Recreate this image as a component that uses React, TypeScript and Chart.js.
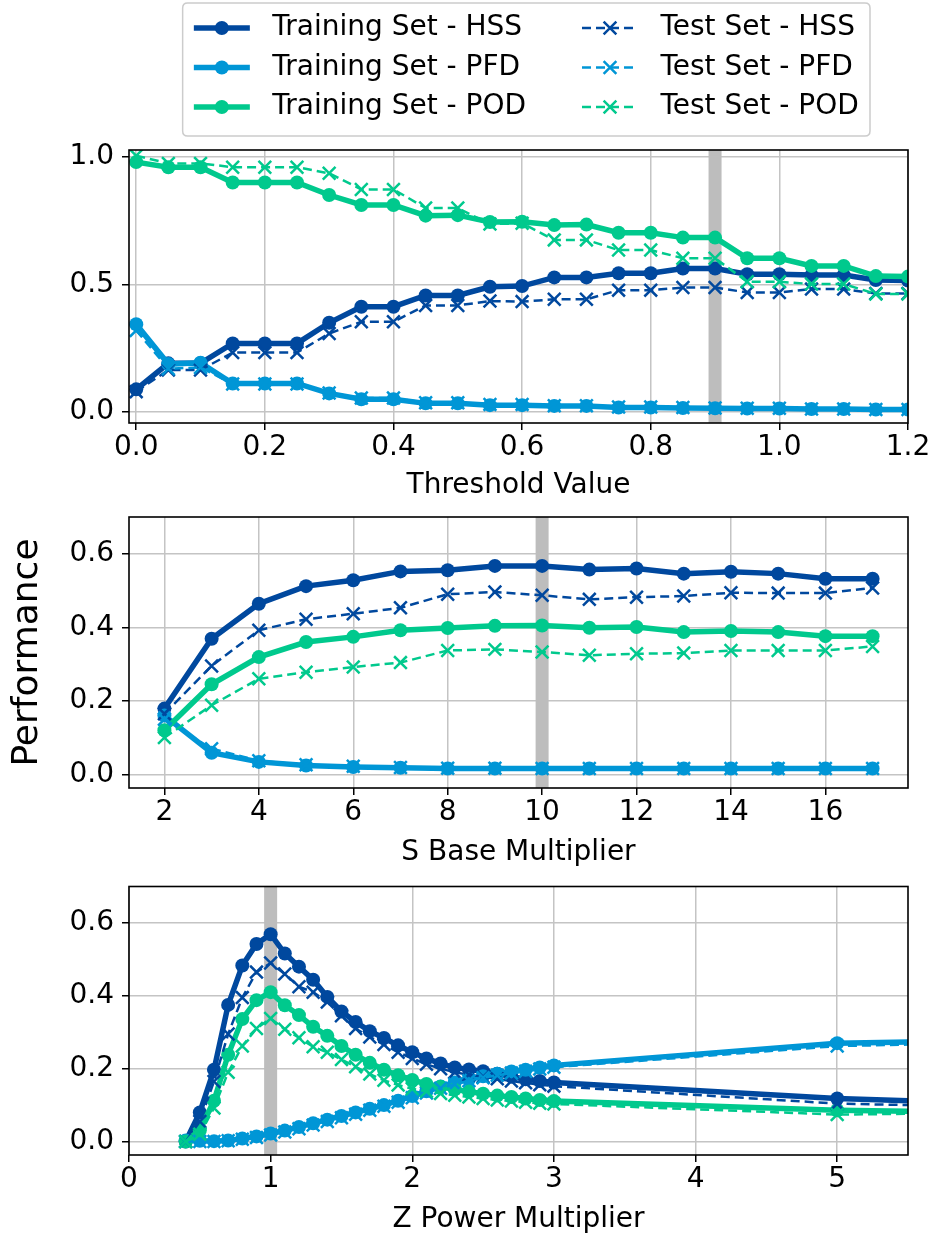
import { useEffect, useRef } from 'react';
import { Chart, registerables } from 'chart.js';
Chart.register(...registerables);

const FONT = 'DejaVu Sans';
const C_HSS = '#00489e';
const C_PFD = '#0096d6';
const C_POD = '#00c98d';
const GRID = '#c4c4c4';
const BAND = '#bdbdbd';

const SERIES_LABELS = [
  'Training Set - HSS', 'Training Set - PFD', 'Training Set - POD',
  'Test Set - HSS', 'Test Set - PFD', 'Test Set - POD',
];

// ---- Panel 1: Threshold Value ----
const THRESH_X = [0, 0.05, 0.1, 0.15, 0.2, 0.25, 0.3, 0.35, 0.4, 0.45, 0.5, 0.55, 0.6, 0.65, 0.7, 0.75, 0.8, 0.85, 0.9, 0.95, 1.0, 1.05, 1.1, 1.15, 1.2];
const THRESH_TRAIN_HSS = [0.089, 0.191, 0.191, 0.269, 0.269, 0.269, 0.35, 0.413, 0.413, 0.457, 0.457, 0.491, 0.494, 0.528, 0.528, 0.544, 0.544, 0.563, 0.563, 0.54, 0.54, 0.537, 0.537, 0.518, 0.516];
const THRESH_TRAIN_PFD = [0.344, 0.188, 0.193, 0.112, 0.112, 0.112, 0.073, 0.05, 0.05, 0.034, 0.034, 0.027, 0.027, 0.024, 0.024, 0.018, 0.018, 0.016, 0.015, 0.014, 0.014, 0.012, 0.012, 0.01, 0.01];
const THRESH_TRAIN_POD = [0.98, 0.96, 0.96, 0.9, 0.9, 0.9, 0.851, 0.812, 0.812, 0.77, 0.772, 0.745, 0.746, 0.733, 0.735, 0.703, 0.703, 0.684, 0.684, 0.603, 0.603, 0.573, 0.573, 0.533, 0.531];
const THRESH_TEST_HSS = [0.08, 0.165, 0.165, 0.233, 0.233, 0.233, 0.308, 0.354, 0.354, 0.418, 0.418, 0.435, 0.433, 0.442, 0.442, 0.478, 0.478, 0.488, 0.488, 0.469, 0.469, 0.482, 0.482, 0.465, 0.465];
const THRESH_TEST_PFD = [0.32, 0.17, 0.175, 0.11, 0.11, 0.11, 0.075, 0.055, 0.055, 0.036, 0.036, 0.03, 0.03, 0.025, 0.025, 0.02, 0.02, 0.018, 0.016, 0.015, 0.015, 0.012, 0.012, 0.01, 0.01];
const THRESH_TEST_POD = [1.005, 0.975, 0.975, 0.96, 0.96, 0.96, 0.936, 0.873, 0.873, 0.8, 0.8, 0.737, 0.74, 0.675, 0.675, 0.635, 0.635, 0.603, 0.603, 0.511, 0.511, 0.502, 0.502, 0.463, 0.463];
const THRESH_X_TICKS = [0, 0.2, 0.4, 0.6, 0.8, 1.0, 1.2];
const THRESH_Y_TICKS = [0, 0.5, 1.0];
const THRESH_BEST = 0.9;

// ---- Panel 2: S Base Multiplier ----
const SBASE_X = [2, 3, 4, 5, 6, 7, 8, 9, 10, 11, 12, 13, 14, 15, 16, 17];
const SBASE_TRAIN_HSS = [0.179, 0.369, 0.464, 0.512, 0.528, 0.552, 0.555, 0.567, 0.567, 0.557, 0.56, 0.546, 0.551, 0.546, 0.532, 0.532];
const SBASE_TRAIN_PFD = [0.16, 0.059, 0.034, 0.024, 0.02, 0.018, 0.016, 0.016, 0.016, 0.016, 0.016, 0.016, 0.016, 0.016, 0.016, 0.016];
const SBASE_TRAIN_POD = [0.12, 0.245, 0.319, 0.36, 0.374, 0.392, 0.398, 0.404, 0.405, 0.399, 0.401, 0.387, 0.39, 0.387, 0.376, 0.376];
const SBASE_TEST_HSS = [0.165, 0.295, 0.392, 0.422, 0.437, 0.453, 0.49, 0.496, 0.487, 0.476, 0.482, 0.485, 0.494, 0.493, 0.493, 0.507];
const SBASE_TEST_PFD = [0.15, 0.07, 0.037, 0.026, 0.022, 0.019, 0.017, 0.017, 0.016, 0.016, 0.016, 0.016, 0.016, 0.016, 0.016, 0.016];
const SBASE_TEST_POD = [0.1, 0.188, 0.26, 0.278, 0.292, 0.304, 0.337, 0.34, 0.333, 0.324, 0.328, 0.33, 0.337, 0.337, 0.337, 0.348];
const SBASE_X_TICKS = [2, 4, 6, 8, 10, 12, 14, 16];
const SBASE_BEST = 10;

// ---- Panel 3: Z Power Multiplier ----
const ZPOW_X = [0.4, 0.5, 0.6, 0.7, 0.8, 0.9, 1.0, 1.1, 1.2, 1.3, 1.4, 1.5, 1.6, 1.7, 1.8, 1.9, 2.0, 2.1, 2.2, 2.3, 2.4, 2.5, 2.6, 2.7, 2.8, 2.9, 3.0, 5.0, 6.0];
const ZPOW_TRAIN_HSS = [0.0, 0.08, 0.197, 0.375, 0.483, 0.542, 0.569, 0.516, 0.48, 0.444, 0.397, 0.357, 0.328, 0.303, 0.284, 0.264, 0.245, 0.228, 0.214, 0.203, 0.198, 0.193, 0.186, 0.178, 0.171, 0.166, 0.162, 0.118, 0.106];
const ZPOW_TRAIN_PFD = [0.003, 0.002, 0.001, 0.003, 0.008, 0.014, 0.022, 0.03, 0.04, 0.05, 0.06, 0.07, 0.08, 0.09, 0.1, 0.112, 0.125, 0.138, 0.151, 0.162, 0.171, 0.179, 0.186, 0.192, 0.197, 0.203, 0.209, 0.27, 0.276];
const ZPOW_TRAIN_POD = [0.0, 0.031, 0.112, 0.238, 0.336, 0.388, 0.41, 0.374, 0.347, 0.315, 0.29, 0.262, 0.238, 0.216, 0.197, 0.182, 0.169, 0.158, 0.15, 0.143, 0.137, 0.131, 0.126, 0.122, 0.118, 0.114, 0.111, 0.086, 0.08];
const ZPOW_TEST_HSS = [0.0, 0.055, 0.165, 0.295, 0.395, 0.465, 0.49, 0.46, 0.425, 0.41, 0.383, 0.345, 0.31, 0.287, 0.266, 0.245, 0.228, 0.212, 0.2, 0.19, 0.183, 0.178, 0.172, 0.166, 0.161, 0.156, 0.152, 0.104, 0.096];
const ZPOW_TEST_PFD = [0.0, 0.0, 0.0, 0.002, 0.006, 0.011, 0.018, 0.026, 0.035, 0.045, 0.055, 0.065, 0.075, 0.086, 0.097, 0.108, 0.12, 0.133, 0.146, 0.157, 0.167, 0.175, 0.182, 0.188, 0.193, 0.199, 0.204, 0.262, 0.27];
const ZPOW_TEST_POD = [0.0, 0.02, 0.092, 0.19, 0.262, 0.31, 0.338, 0.308, 0.285, 0.26, 0.245, 0.225, 0.205, 0.185, 0.168, 0.155, 0.145, 0.138, 0.132, 0.127, 0.122, 0.118, 0.114, 0.111, 0.108, 0.105, 0.103, 0.074, 0.078];
const ZPOW_X_TICKS = [0, 1, 2, 3, 4, 5];
const ZPOW_BEST = 1;

const PERF_Y_TICKS = [0, 0.2, 0.4, 0.6];

const COLORS = [C_HSS, C_PFD, C_POD];

function styleFor(i: number) {
  const test = i >= 3;
  const color = COLORS[i % 3];
  return {
    color,
    test,
    lineWidth: test ? 2.5 : 5.5,
    dash: test ? [9, 5] : [],
    pointStyle: test ? 'crossRot' : 'circle',
    radius: test ? 9 : 7,
    pointBorderWidth: test ? 2.5 : 0,
  };
}

function makeDatasets(xs: number[], series: number[][]) {
  return series.map((ys, i) => {
    const s = styleFor(i);
    return {
      label: SERIES_LABELS[i],
      data: xs.map((x, j) => ({ x, y: ys[j] })),
      borderColor: s.color,
      backgroundColor: s.color,
      borderWidth: s.lineWidth,
      borderDash: s.dash,
      pointStyle: s.pointStyle,
      pointRadius: s.radius,
      pointHoverRadius: s.radius,
      pointBorderWidth: s.pointBorderWidth,
      pointBackgroundColor: s.color,
      pointBorderColor: s.color,
      order: 6 - i,
      clip: 0,
      tension: 0,
      fill: false,
    };
  });
}

const bandPlugin = {
  id: 'bestBand',
  beforeDatasetsDraw(chart: any, _a: any, opts: any) {
    if (opts == null || opts.value == null) return;
    const { ctx, chartArea } = chart;
    const px = chart.scales.x.getPixelForValue(opts.value);
    ctx.save();
    ctx.fillStyle = BAND;
    ctx.fillRect(px - 6.5, chartArea.top, 13, chartArea.bottom - chartArea.top);
    ctx.restore();
  },
};

const framePlugin = {
  id: 'frame',
  afterDatasetsDraw(chart: any) {
    const { ctx, chartArea } = chart;
    ctx.save();
    ctx.strokeStyle = '#000';
    ctx.lineWidth = 1.6;
    ctx.strokeRect(chartArea.left, chartArea.top, chartArea.right - chartArea.left, chartArea.bottom - chartArea.top);
    ctx.restore();
  },
};

const legendPlugin = {
  id: 'mplLegend',
  afterDraw(chart: any) {
    const ctx = chart.ctx;
    const fs = 28;
    ctx.save();
    ctx.font = `${fs}px "${FONT}"`;
    const bp = 0.4 * fs, hl = 2 * fs, htp = 0.8 * fs, cs = 2 * fs;
    const col1W = Math.max(...SERIES_LABELS.slice(0, 3).map((t) => ctx.measureText(t).width));
    const col2W = Math.max(...SERIES_LABELS.slice(3).map((t) => ctx.measureText(t).width));
    const right = 870;
    const totalW = 2 * bp + hl + htp + col1W + cs + hl + htp + col2W;
    const left = right - totalW;
    const top = 3, bottom = 136;
    const r = 5;
    ctx.beginPath();
    ctx.moveTo(left + r, top);
    ctx.lineTo(right - r, top);
    ctx.quadraticCurveTo(right, top, right, top + r);
    ctx.lineTo(right, bottom - r);
    ctx.quadraticCurveTo(right, bottom, right - r, bottom);
    ctx.lineTo(left + r, bottom);
    ctx.quadraticCurveTo(left, bottom, left, bottom - r);
    ctx.lineTo(left, top + r);
    ctx.quadraticCurveTo(left, top, left + r, top);
    ctx.closePath();
    ctx.fillStyle = 'rgba(255,255,255,0.8)';
    ctx.fill();
    ctx.strokeStyle = '#cccccc';
    ctx.lineWidth = 1.5;
    ctx.stroke();
    const rows = [28, 67.5, 107];
    for (let i = 0; i < 6; i++) {
      const s = styleFor(i);
      const col = i < 3 ? 0 : 1;
      const y = rows[i % 3];
      const x0 = left + bp + (col ? hl + htp + col1W + cs : 0);
      ctx.save();
      ctx.strokeStyle = s.color;
      ctx.lineWidth = s.lineWidth;
      ctx.setLineDash(s.dash);
      ctx.beginPath();
      ctx.moveTo(x0, y);
      ctx.lineTo(x0 + hl, y);
      ctx.stroke();
      ctx.setLineDash([]);
      const cx = x0 + hl / 2;
      if (s.test) {
        const d = s.radius * Math.SQRT1_2;
        ctx.lineWidth = s.pointBorderWidth;
        ctx.beginPath();
        ctx.moveTo(cx - d, y - d);
        ctx.lineTo(cx + d, y + d);
        ctx.moveTo(cx - d, y + d);
        ctx.lineTo(cx + d, y - d);
        ctx.stroke();
      } else {
        ctx.fillStyle = s.color;
        ctx.beginPath();
        ctx.arc(cx, y, s.radius, 0, Math.PI * 2);
        ctx.fill();
      }
      ctx.restore();
      ctx.fillStyle = '#000';
      ctx.textBaseline = 'middle';
      ctx.textAlign = 'left';
      ctx.fillText(SERIES_LABELS[i], x0 + hl + htp, y);
    }
    ctx.restore();
  },
};

type PanelCfg = {
  xs: number[];
  series: number[][];
  xMin: number; xMax: number; yMin: number; yMax: number;
  xTicks: number[]; yTicks: number[];
  xFmt: (v: number) => string; yFmt: (v: number) => string;
  xTitle: string; yTitle?: string;
  best: number;
  padTop: number; xHeight: number; titlePadBottom: number;
  legend?: boolean;
};

function buildConfig(p: PanelCfg): any {
  const tickFont = { family: FONT, size: 28, lineHeight: 1 };
  const plugins: any[] = [bandPlugin, framePlugin];
  if (p.legend) plugins.push(legendPlugin);
  return {
    type: 'line',
    data: { datasets: makeDatasets(p.xs, p.series) },
    plugins,
    options: {
      animation: false,
      responsive: false,
      devicePixelRatio: 1,
      events: [],
      layout: { padding: { top: p.padTop, right: 21, bottom: 0, left: 0 } },
      plugins: {
        legend: { display: false },
        tooltip: { enabled: false },
        bestBand: { value: p.best },
      },
      scales: {
        x: {
          type: 'linear',
          min: p.xMin,
          max: p.xMax,
          afterBuildTicks: (s: any) => { s.ticks = p.xTicks.map((v) => ({ value: v })); },
          afterFit: (s: any) => { s.height = p.xHeight; s.paddingLeft = 0; s.paddingRight = 0; },
          ticks: {
            callback: (v: any) => p.xFmt(Number(v)),
            font: tickFont, color: '#000', padding: 4, maxRotation: 0, minRotation: 0, autoSkip: false,
          },
          grid: { color: GRID, lineWidth: 1.5, tickLength: 7, tickColor: '#000', tickWidth: 1.5 },
          border: { display: false },
          title: {
            display: true, text: p.xTitle, color: '#000',
            font: { family: FONT, size: 28, lineHeight: 1 },
            padding: { top: 0, bottom: p.titlePadBottom },
          },
        },
        y: {
          type: 'linear',
          min: p.yMin,
          max: p.yMax,
          afterBuildTicks: (s: any) => { s.ticks = p.yTicks.map((v) => ({ value: v })); },
          afterFit: (s: any) => { s.width = 129; s.paddingTop = 0; s.paddingBottom = 0; },
          ticks: {
            callback: (v: any) => p.yFmt(Number(v)),
            font: tickFont, color: '#000', padding: 8, autoSkip: false,
          },
          grid: { color: GRID, lineWidth: 1.5, tickLength: 7, tickColor: '#000', tickWidth: 1.5 },
          border: { display: false },
          title: p.yTitle
            ? {
                display: true, text: p.yTitle, color: '#000',
                font: { family: FONT, size: 36, lineHeight: 1.2 },
                padding: { top: 6, bottom: 0 },
              }
            : { display: false },
        },
      },
    },
  };
}

const fmt1 = (v: number) => v.toFixed(1);
const fmt0 = (v: number) => String(Math.round(v));

export default function App() {
  const r1 = useRef<HTMLCanvasElement>(null);
  const r2 = useRef<HTMLCanvasElement>(null);
  const r3 = useRef<HTMLCanvasElement>(null);

  useEffect(() => {
    const c1 = new Chart(r1.current as HTMLCanvasElement, buildConfig({
      xs: THRESH_X,
      series: [THRESH_TRAIN_HSS, THRESH_TRAIN_PFD, THRESH_TRAIN_POD, THRESH_TEST_HSS, THRESH_TEST_PFD, THRESH_TEST_POD],
      xMin: -0.0112, xMax: 1.2, yMin: -0.043, yMax: 1.0275,
      xTicks: THRESH_X_TICKS, yTicks: THRESH_Y_TICKS,
      xFmt: fmt1, yFmt: fmt1,
      xTitle: 'Threshold Value',
      best: THRESH_BEST,
      padTop: 150, xHeight: 82, titlePadBottom: 5,
      legend: true,
    }));
    const c2 = new Chart(r2.current as HTMLCanvasElement, buildConfig({
      xs: SBASE_X,
      series: [SBASE_TRAIN_HSS, SBASE_TRAIN_PFD, SBASE_TRAIN_POD, SBASE_TEST_HSS, SBASE_TEST_PFD, SBASE_TEST_POD],
      xMin: 1.25, xMax: 17.75, yMin: -0.037, yMax: 0.7,
      xTicks: SBASE_X_TICKS, yTicks: PERF_Y_TICKS,
      xFmt: fmt0, yFmt: fmt1,
      xTitle: 'S Base Multiplier', yTitle: 'Performance',
      best: SBASE_BEST,
      padTop: 12, xHeight: 87, titlePadBottom: 8,
    }));
    const c3 = new Chart(r3.current as HTMLCanvasElement, buildConfig({
      xs: ZPOW_X,
      series: [ZPOW_TRAIN_HSS, ZPOW_TRAIN_PFD, ZPOW_TRAIN_POD, ZPOW_TEST_HSS, ZPOW_TEST_PFD, ZPOW_TEST_POD],
      xMin: 0, xMax: 5.5, yMin: -0.037, yMax: 0.7,
      xTicks: ZPOW_X_TICKS, yTicks: PERF_Y_TICKS,
      xFmt: fmt0, yFmt: fmt1,
      xTitle: 'Z Power Multiplier',
      best: ZPOW_BEST,
      padTop: 8, xHeight: 81, titlePadBottom: 2,
    }));
    return () => { c1.destroy(); c2.destroy(); c3.destroy(); };
  }, []);

  return (
    <div style={{ position: 'absolute', left: 0, top: 0, width: 929, height: 1236, background: '#fff', overflow: 'hidden' }}>
      <canvas ref={r1} width={929} height={505} style={{ position: 'absolute', left: 0, top: 0 }} />
      <canvas ref={r2} width={929} height={370} style={{ position: 'absolute', left: 0, top: 505 }} />
      <canvas ref={r3} width={929} height={361} style={{ position: 'absolute', left: 0, top: 875 }} />
    </div>
  );
}
